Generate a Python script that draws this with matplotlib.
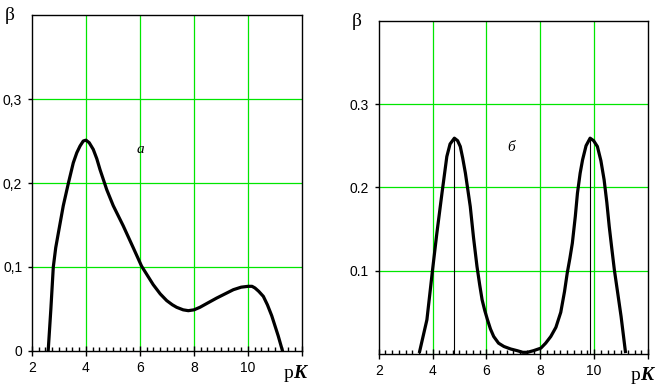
import matplotlib.pyplot as plt
from matplotlib.ticker import MultipleLocator, FixedLocator

# panel a
pk_a = [2.6, 2.7, 2.79, 2.88, 2.98, 3.16, 3.35, 3.53, 3.66, 3.78, 3.9, 4.0,
        4.12, 4.27, 4.4, 4.52, 4.77, 5.01, 5.38, 5.75, 6.06, 6.49, 6.75,
        6.99, 7.2, 7.36, 7.6, 7.79, 8.0, 8.22, 8.5, 8.84, 9.15, 9.46, 9.75,
        10.01, 10.15, 10.26, 10.4, 10.57, 10.72, 10.88, 11.0, 11.12, 11.28]
beta_a = [0.0, 0.05, 0.1, 0.123, 0.141, 0.173, 0.2, 0.224, 0.236, 0.244,
          0.25, 0.251, 0.248, 0.24, 0.229, 0.216, 0.192, 0.173, 0.149, 0.123,
          0.101, 0.079, 0.068, 0.06, 0.055, 0.052, 0.049, 0.048, 0.049,
          0.052, 0.057, 0.063, 0.068, 0.073, 0.076, 0.077, 0.077, 0.075,
          0.071, 0.065, 0.055, 0.042, 0.03, 0.018, 0.0]

# panel b
pk_b = [3.52, 3.79, 4.0, 4.16, 4.35, 4.53, 4.65, 4.81, 4.93, 5.03, 5.12,
        5.22, 5.4, 5.52, 5.65, 5.75, 5.84, 5.94, 6.04, 6.15, 6.27, 6.45,
        6.65, 6.9, 7.14, 7.35, 7.52, 7.75, 8.02, 8.2, 8.39, 8.58, 8.76, 8.9,
        9.0, 9.1, 9.19, 9.3, 9.38, 9.48, 9.57, 9.7, 9.85, 9.98, 10.12, 10.25,
        10.37, 10.47, 10.56, 10.65, 10.75, 10.88, 11.0, 11.16]
beta_b = [0.003, 0.041, 0.101, 0.145, 0.193, 0.237, 0.252, 0.259, 0.256,
          0.249, 0.235, 0.217, 0.177, 0.14, 0.105, 0.083, 0.065, 0.052,
          0.041, 0.03, 0.021, 0.013, 0.009, 0.006, 0.004, 0.002, 0.002,
          0.004, 0.007, 0.013, 0.021, 0.032, 0.05, 0.075, 0.097, 0.115,
          0.133, 0.165, 0.193, 0.217, 0.233, 0.25, 0.259, 0.256, 0.249,
          0.232, 0.209, 0.182, 0.153, 0.128, 0.101, 0.072, 0.045, 0.003]
peaks_pk = [4.81, 9.85]
peaks_beta = [0.259, 0.259]

xticks = [2, 4, 6, 8, 10]
yticks = [0.1, 0.2, 0.3]

green = '#00e600'
fig = plt.figure(figsize=(6.66, 3.89), dpi=100)
plt.rcParams['font.family'] = ['Liberation Sans', 'DejaVu Sans']


def setup(ax, ylabels, show_zero):
    ax.set_xlim(2, 12)
    ax.set_ylim(0, 0.4)
    for x in xticks[1:]:
        ax.axvline(x, color=green, lw=0.9, zorder=1)
    for y in yticks:
        ax.axhline(y, color=green, lw=0.9, zorder=1)
    ax.xaxis.set_major_locator(FixedLocator(xticks + [12]))
    ax.set_xticklabels([str(t) for t in xticks] + [''])
    ax.xaxis.set_minor_locator(MultipleLocator(0.25))
    ax.tick_params(axis='x', which='major', direction='inout', length=7,
                   width=1, labelsize=10, pad=4)
    ax.tick_params(axis='x', which='minor', direction='in', length=3, width=1)
    ticks = ([0] if show_zero else []) + yticks
    ax.set_yticks(ticks)
    ax.set_yticklabels((['0'] if show_zero else []) + ylabels)
    ax.tick_params(axis='y', direction='out', length=3, width=1,
                   labelsize=10, pad=4)
    for s in ax.spines.values():
        s.set_linewidth(1)
        s.set_color('black')


ax1 = fig.add_axes([0.048, 0.0977, 0.4054, 0.8637])
setup(ax1, ['0,1', '0,2', '0,3'], True)
ax1.plot(pk_a, beta_a, color='black', lw=2.3, zorder=3,
         solid_joinstyle='round')
ax1.text(6.0, 0.24, 'а', fontsize=11, style='italic', ha='center',
         va='center', family='Liberation Serif')

ax2 = fig.add_axes([0.5686, 0.09, 0.4044, 0.8568])
setup(ax2, ['0.1', '0.2', '0.3'], False)
ax2.plot(pk_b, beta_b, color='black', lw=2.3, zorder=3,
         solid_joinstyle='round')
ax2.vlines(peaks_pk, 0, peaks_beta, color='black', lw=0.8, zorder=2)
ax2.text(6.9, 0.248, 'б', fontsize=11, style='italic', ha='center',
         va='center', family='Liberation Serif')

for x, y in [(10, 16), (357, 21)]:
    fig.text(x / 666, 1 - y / 389, 'β', fontsize=14, ha='center',
             va='center', family='Liberation Serif')
for x, y in [(293, 373), (640, 375)]:
    fig.text(x / 666, 1 - y / 389, 'p', fontsize=14, ha='right',
             va='center', family='Liberation Serif')
    fig.text(x / 666, 1 - y / 389, 'K', fontsize=14, ha='left',
             va='center', family='Liberation Serif', weight='bold',
             style='italic')

fig.savefig('out.png', dpi=100)
